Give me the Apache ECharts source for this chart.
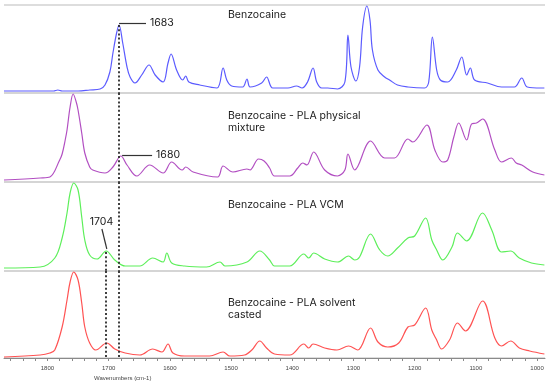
<!DOCTYPE html>
<html>
<head>
<meta charset="utf-8">
<script src="https://cdn.jsdelivr.net/npm/echarts@6/dist/echarts.min.js"></script>
<style>
html,body{margin:0;padding:0;background:#fff;}
#chart{width:550px;height:385px;}
</style>
</head>
<body>
<div id="chart"></div>
<script>
// [wavenumber (cm-1), absorbance (arbitrary units per panel)]
const benzocaine = [
 [1871,2],[1830,2],[1800,2],[1790,2],[1783,3],[1776,2],[1750,2],[1731,3],
 [1714,4],[1706,8],[1698,21],[1693,40],[1687,60],[1683,68],[1677,50],[1670,26],[1665,16],[1657,10],
 [1646,18],[1634,28],[1624,18],[1611,11],[1603,30],[1598,39],[1589,23],[1579,13],[1574,17],[1569,11],
 [1551,8],[1523,5],[1513,25],[1507,13],[1499,7],[1481,6],[1474,14],[1469,6],[1450,10],[1442,16],
 [1432,5],[1407,5],[1393,7],[1384,5],[1375,11],[1366,25],[1360,11],[1352,5],[1342,5],[1326,4],
 [1314,11],[1309,58],[1304,26],[1296,12],[1290,26],[1285,66],[1278,87],[1273,73],[1269,43],[1260,23],
 [1249,16],[1241,13],[1228,8],[1211,6],[1184,5],[1177,11],[1171,56],[1164,23],[1158,13],[1146,11],
 [1132,23],[1123,36],[1115,18],[1109,25],[1102,13],[1081,10],[1058,6],[1037,6],[1025,15],[1016,6],
 [993,5],[988,5]
];
const physicalMixture = [
 [1871,2],[1812,4],[1796,5],[1780,22],[1776,28],[1771,42],[1768,52],[1763,75],[1758,88],[1753,80],
 [1750,72],[1744,49],[1739,29],[1731,15],[1726,12],[1706,9],[1693,15],[1680,26],[1670,17],[1654,6],
 [1633,17],[1611,9],[1597,20],[1580,12],[1574,15],[1562,10],[1522,5],[1513,16],[1497,10],[1474,13],
 [1469,12],[1455,23],[1446,21],[1437,14],[1429,6],[1404,6],[1391,14],[1383,19],[1376,17],[1365,30],
 [1347,12],[1326,6],[1314,12],[1309,28],[1298,12],[1272,41],[1249,24],[1233,24],[1211,43],[1203,40],
 [1180,57],[1167,32],[1154,20],[1146,22],[1136,45],[1128,59],[1115,42],[1107,58],[1099,59],[1089,63],
 [1069,32],[1058,20],[1042,24],[1034,19],[1025,17],[1007,10],[988,7]
];
const vcm = [
 [1871,3],[1812,4],[1788,13],[1776,33],[1768,58],[1763,78],[1757,88],[1750,81],[1744,54],[1739,31],
 [1731,16],[1719,12],[1704,20],[1690,11],[1673,5],[1649,5],[1628,13],[1611,9],[1605,18],[1597,8],
 [1576,5],[1540,4],[1518,9],[1510,5],[1474,9],[1453,20],[1437,11],[1429,5],[1404,5],[1381,17],
 [1373,13],[1365,18],[1347,12],[1326,9],[1308,15],[1298,11],[1290,14],[1272,37],[1257,21],[1244,15],
 [1228,23],[1211,33],[1200,35],[1182,53],[1172,31],[1164,21],[1154,11],[1139,24],[1130,38],[1115,30],
 [1089,58],[1074,41],[1058,19],[1043,20],[1029,13],[1009,8],[988,6]
];
const solventCasted = [
 [1871,1],[1812,3],[1796,5],[1788,8],[1776,31],[1768,58],[1763,76],[1757,86],[1750,78],[1744,55],
 [1739,31],[1731,15],[1721,8],[1703,15],[1690,9],[1673,5],[1649,3],[1628,9],[1613,6],[1603,14],
 [1595,5],[1576,2],[1535,2],[1513,6],[1502,2],[1478,3],[1466,8],[1453,17],[1442,10],[1429,4],
 [1404,3],[1381,14],[1373,10],[1366,14],[1347,10],[1327,8],[1308,12],[1293,8],[1272,30],[1260,16],
 [1244,11],[1226,15],[1211,31],[1200,33],[1182,50],[1172,28],[1164,18],[1156,9],[1143,18],[1130,35],
 [1117,27],[1089,57],[1069,20],[1058,12],[1043,17],[1029,10],[1012,7],[988,4]
];
const tickLabels = [1800,1700,1600,1500,1400,1300,1200,1100,1000];
const panelTitles = ['Benzocaine','Benzocaine - PLA physical\nmixture','Benzocaine - PLA VCM','Benzocaine - PLA solvent\ncasted'];
const seriesColors = ['#5b5bff','#b24fc2','#5def5a','#ff5353'];
const peak1683 = 1683, peak1680 = 1680, peak1704 = 1704;

const spectra = [benzocaine, physicalMixture, vcm, solventCasted];
const gridTops = [5, 93, 182, 271];
const gridHeights = [88, 89, 89, 87];
const xMin = 987, xMax = 1871;

// minor ticks every 20 cm-1 between labelled ticks
const minorTicks = [];
for (let i = 0; i < tickLabels.length; i++) {
  for (let k = 0; k < 5; k++) {
    const v = tickLabels[i] + k * 20;
    if (v <= 1860) minorTicks.push(v);
  }
}

const dotted = {type: [2, 2.2], width: 1.8, color: '#2a2a2a'};
const leader = {type: 'solid', width: 1.2, color: '#333'};
const lblStyle = {show: true, position: 'end', distance: 4, fontFamily: 'Inter', fontSize: 10.5, color: '#1a1a1a'};
const noLbl = {show: false};

const markLines = [
  [
    {lineStyle: dotted, label: noLbl, coords: [[peak1683, 68], [peak1683, 0]]},
    {lineStyle: leader, label: Object.assign({}, lblStyle, {formatter: String(peak1683)}), coords: [[peak1683, 70], [1639, 70]]}
  ],
  [
    {lineStyle: dotted, label: noLbl, coords: [[peak1683, 89], [peak1683, 0]]},
    {lineStyle: leader, label: Object.assign({}, lblStyle, {formatter: String(peak1680)}), coords: [[1678, 27], [1629, 27]]}
  ],
  [
    {lineStyle: dotted, label: noLbl, coords: [[peak1683, 89], [peak1683, 0]]},
    {lineStyle: dotted, label: noLbl, coords: [[peak1704, 19], [peak1704, 0]]},
    {lineStyle: leader, label: Object.assign({}, lblStyle, {formatter: String(peak1704), distance: 2}), coords: [[1703, 22], [1711, 42]]}
  ],
  [
    {lineStyle: dotted, label: noLbl, coords: [[peak1683, 87], [peak1683, 1]]},
    {lineStyle: dotted, label: noLbl, coords: [[peak1704, 87], [peak1704, 1]]}
  ]
];

const grids = [], xAxes = [], yAxes = [], series = [];
for (let i = 0; i < 4; i++) {
  grids.push({left: 4, right: 5, top: gridTops[i], height: gridHeights[i]});
  const isBottom = i === 3;
  xAxes.push({
    type: 'value', gridIndex: i, min: xMin, max: xMax, inverse: true,
    show: true,
    axisLine: {show: isBottom, lineStyle: {color: '#8a8a8a', width: 1}},
    axisTick: {show: isBottom, length: 3, customValues: minorTicks, lineStyle: {color: '#8a8a8a', width: 1}},
    axisLabel: {show: isBottom, customValues: tickLabels, formatter: v => String(v), margin: 7,
      fontFamily: 'Liberation Sans', fontSize: 6, color: '#444'},
    splitLine: {show: false}
  });
  yAxes.push({
    type: 'value', gridIndex: i, min: 0, max: gridHeights[i], interval: gridHeights[i],
    axisLine: {show: false}, axisTick: {show: false}, axisLabel: {show: false},
    splitLine: {show: true, lineStyle: {color: '#d2d2d2', width: 1.5}}
  });
  series.push({
    type: 'line', xAxisIndex: i, yAxisIndex: i,
    data: spectra[i], showSymbol: false, symbol: 'none', smooth: 0.35,
    lineStyle: {color: seriesColors[i], width: 1.2},
    silent: true,
    markLine: {
      silent: true, symbol: 'none', animation: false,
      data: markLines[i].map(m => [
        {coord: m.coords[0], lineStyle: m.lineStyle, label: m.label},
        {coord: m.coords[1]}
      ])
    }
  });
}

const titleTops = [9, 110, 199, 297];
const titles = panelTitles.map((t, i) => ({
  text: t, left: 228, top: titleTops[i], padding: 0,
  textStyle: {fontFamily: 'Inter', fontSize: 10.5, fontWeight: 'normal', color: '#1a1a1a', lineHeight: 12}
}));
titles.push({
  text: 'Wavenumbers (cm-1)', left: 94, top: 375, padding: 0,
  textStyle: {fontFamily: 'Liberation Sans', fontSize: 6, fontWeight: 'normal', color: '#444', lineHeight: 7}
});

const chart = echarts.init(document.getElementById('chart'), null, {renderer: 'canvas'});
chart.setOption({
  animation: false,
  backgroundColor: '#fff',
  title: titles,
  grid: grids,
  xAxis: xAxes,
  yAxis: yAxes,
  series: series
});
</script>
</body>
</html>
